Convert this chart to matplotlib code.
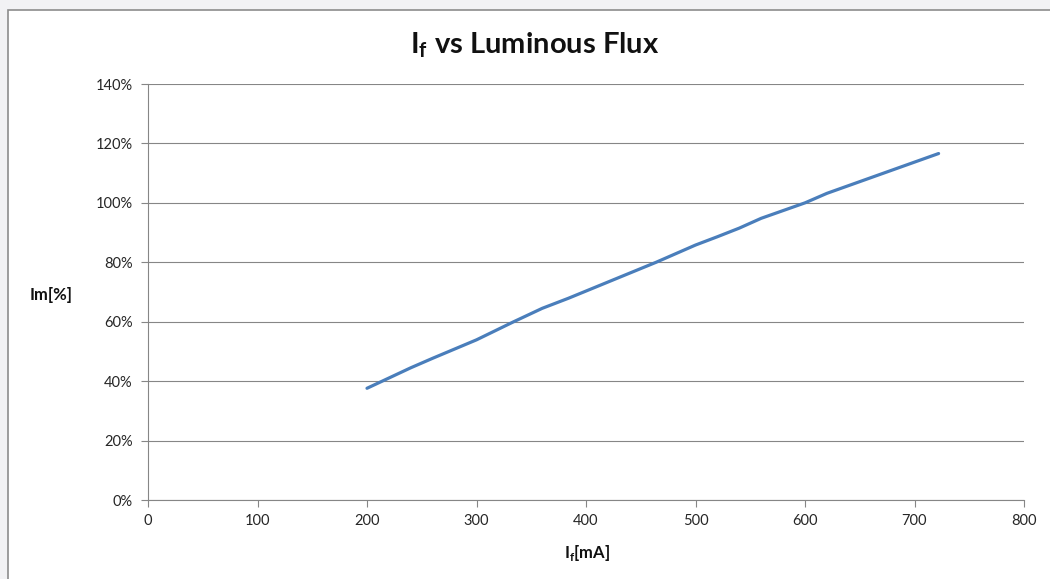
import matplotlib
matplotlib.use("Agg")
import matplotlib.pyplot as plt
from matplotlib.patches import Rectangle
from matplotlib.ticker import FuncFormatter

# values
current_mA = [200, 240, 260, 300, 334, 360, 384, 464, 500, 520, 540, 560, 600, 620, 722]
flux_pct = [37.6, 44.5, 47.7, 53.9, 60.0, 64.5, 67.9, 80.0, 85.8, 88.6, 91.5, 94.8, 100.0, 103.2, 116.6]

x_ticks = [0, 100, 200, 300, 400, 500, 600, 700, 800]
y_ticks = [0, 20, 40, 60, 80, 100, 120, 140]

plt.rcParams['font.family'] = ['Lato', 'DejaVu Sans']
plt.rcParams['mathtext.fontset'] = 'custom'
plt.rcParams['mathtext.bf'] = 'Lato:bold'
plt.rcParams['mathtext.rm'] = 'Lato'

grey = '#868686'

fig = plt.figure(figsize=(10.5, 5.79), dpi=100)
fig.patch.set_facecolor('#f2f2f4')
# white chart area with thin border (Excel style), behind the axes
fig.patches.append(Rectangle((8 / 1050, -0.1), 1.2, 1 - 10 / 579 + 0.1,
                             transform=fig.transFigure, facecolor='white',
                             edgecolor='#8c8c8c', linewidth=1.2, zorder=-5))

ax = fig.add_axes([148 / 1050, 1 - 500 / 579, (1024 - 148) / 1050, (500 - 84) / 579])
ax.set_facecolor('none')

ax.plot(current_mA, flux_pct, color='#4a7ebb', linewidth=2.3, solid_capstyle='round')

ax.set_xlim(0, 800)
ax.set_ylim(0, 140)
ax.set_xticks(x_ticks)
ax.set_yticks(y_ticks)
ax.yaxis.set_major_formatter(FuncFormatter(lambda v, p: "%d%%" % v))
ax.grid(axis='y', color=grey, linewidth=0.8)
ax.set_axisbelow(True)

for s in ['top', 'right']:
    ax.spines[s].set_visible(False)
for s in ['left', 'bottom']:
    ax.spines[s].set_color(grey)
    ax.spines[s].set_linewidth(0.8)

ax.tick_params(axis='both', colors=grey, labelcolor='#262626', labelsize=10.5,
               length=5, width=0.8, direction='out')
ax.tick_params(axis='y', pad=6)
ax.tick_params(axis='x', pad=5)

fig.text(535 / 1050, 1 - 45 / 579, r"$\mathbf{I}_\mathbf{f}$ vs Luminous Flux",
         ha='center', va='center', fontsize=21, fontweight='bold', color='#111111')
fig.text(51 / 1050, 1 - 295 / 579, "Im[%]", ha='center', va='center',
         fontsize=12, fontweight='bold', color='#111111')
fig.text(587 / 1050, 1 - 553 / 579, r"$\mathbf{I}_\mathbf{f}$[mA]", ha='center', va='center',
         fontsize=12, fontweight='bold', color='#111111')

fig.savefig('out.png', dpi=100, facecolor=fig.get_facecolor())
